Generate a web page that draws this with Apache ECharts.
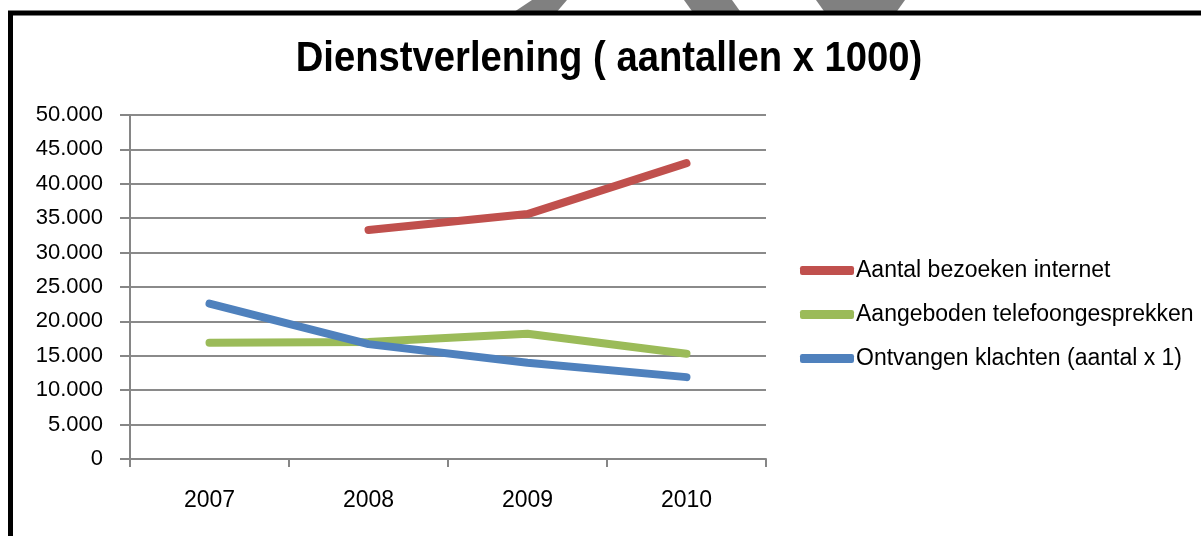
<!DOCTYPE html>
<html>
<head>
<meta charset="utf-8">
<script src="https://cdn.jsdelivr.net/npm/echarts@6/dist/echarts.min.js"></script>
<style>
html,body{margin:0;padding:0;background:#fff;}
#chart{width:1201px;height:536px;}
</style>
</head>
<body>
<div id="chart"></div>
<script>
const categories = ['2007', '2008', '2009', '2010'];
const seriesNames = ['Aantal bezoeken internet', 'Aangeboden telefoongesprekken', 'Ontvangen klachten (aantal x 1)'];
const internet = [null, 33300, 35600, 43000];
const telefoon = [16900, 17000, 18200, 15300];
const klachten = [22600, 16700, 14000, 11900];
const yMin = 0, yMax = 50000, yInterval = 5000;
const titleText = 'Dienstverlening ( aantallen x 1000)';

const colors = ['#C0504D', '#9BBB59', '#4F81BD'];
const chart = echarts.init(document.getElementById('chart'));

function fmt(v) {
  if (v === 0) return '0';
  return String(v).replace(/\B(?=(\d{3})+(?!\d))/g, '.');
}

const lineSeries = [internet, telefoon, klachten].map((d, i) => ({
  name: seriesNames[i],
  type: 'line',
  data: d,
  showSymbol: false,
  symbol: 'none',
  connectNulls: false,
  z: 3 + i,
  lineStyle: { color: colors[i], width: 8, cap: 'round', join: 'round' },
  itemStyle: { color: colors[i] }
}));

chart.setOption({
  animation: false,
  backgroundColor: '#fff',
  legend: {
    orient: 'vertical',
    left: 795,
    top: 254,
    itemWidth: 54,
    itemHeight: 9,
    itemGap: 21,
    icon: 'roundRect',
    textStyle: { fontFamily: 'Liberation Sans, Arial, sans-serif', fontSize: 23, color: '#000', padding: [0, 0, 0, -3] },
    data: seriesNames
  },
  grid: { left: 130, right: 435, top: 115, bottom: 77, containLabel: false },
  xAxis: {
    type: 'category',
    data: categories,
    boundaryGap: true,
    axisLine: { lineStyle: { color: '#868686', width: 2 } },
    axisTick: { show: true, length: 8, inside: false, lineStyle: { color: '#868686', width: 2 } },
    axisLabel: { margin: 30, fontFamily: 'Liberation Sans, Arial, sans-serif', fontSize: 23, color: '#000' },
    splitLine: { show: false }
  },
  yAxis: {
    type: 'value',
    min: yMin, max: yMax, interval: yInterval,
    axisLine: { show: true, lineStyle: { color: '#868686', width: 2 } },
    axisTick: { show: true, length: 10, lineStyle: { color: '#868686', width: 2 } },
    axisLabel: { margin: 27, formatter: fmt, fontFamily: 'Liberation Sans, Arial, sans-serif', fontSize: 22, color: '#000' },
    splitLine: { show: true, lineStyle: { color: '#8a8a8a', width: 2 } }
  },
  graphic: [
    { type: 'polygon', z: 1, shape: { points: [[532, 0], [567, 0], [555, 14], [511, 14]] }, style: { fill: '#808080' } },
    { type: 'polygon', z: 1, shape: { points: [[684, 0], [732, 0], [742, 14], [694, 14]] }, style: { fill: '#808080' } },
    { type: 'polygon', z: 1, shape: { points: [[816, 0], [905, 0], [895, 14], [826, 14]] }, style: { fill: '#808080' } },
    { type: 'rect', z: 2, shape: { x: 10.5, y: 13, width: 1400, height: 700 }, style: { fill: 'none', stroke: '#000', lineWidth: 5 } },
    { type: 'text', z: 3, x: 609, y: 59, scaleX: 0.91, originX: 0, originY: 0,
      style: { text: titleText, x: 0, y: 0, align: 'center', verticalAlign: 'middle', fontFamily: 'Liberation Sans, Arial, sans-serif', fontWeight: 'bold', fontSize: 42, fill: '#000' } }
  ],
  series: lineSeries
});
</script>
</body>
</html>
